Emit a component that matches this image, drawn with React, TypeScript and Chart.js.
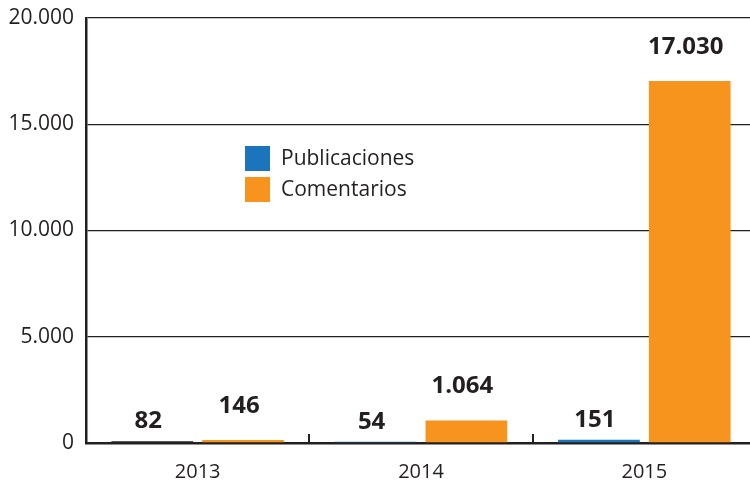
import React, { useEffect, useRef } from "react";
import { Chart, registerables } from "chart.js";

Chart.register(...registerables);

const categories = ["2013", "2014", "2015"];
const publicaciones = [82, 54, 151];
const comentarios = [146, 1064, 17030];
const yTicks = [0, 5000, 10000, 15000, 20000];
const seriesNames = ["Publicaciones", "Comentarios"];

const BLUE = "#1c75bc";
const ORANGE = "#f7941d";
const INK = "#231f20";
const FONT = "'Open Sans', sans-serif";

const fmt = (v: number) => v.toString().replace(/\B(?=(\d{3})+(?!\d))/g, ".");

const overlay = {
  id: "overlay",
  afterDatasetsDraw(chart: any) {
    const ctx = chart.ctx;
    const area = chart.chartArea;
    const x = chart.scales.x;
    ctx.save();
    ctx.strokeStyle = INK;
    ctx.lineWidth = 2;
    const n = categories.length;
    const step = (x.right - x.left) / n;
    for (let i = 1; i < n; i++) {
      const px = Math.round(x.left + step * i);
      ctx.beginPath();
      ctx.moveTo(px, area.bottom);
      ctx.lineTo(px, area.bottom - 9);
      ctx.stroke();
    }
    const offsets = [20, 34];
    ctx.fillStyle = INK;
    ctx.font = `bold 24px ${FONT}`;
    ctx.textAlign = "center";
    ctx.textBaseline = "middle";
    chart.data.datasets.forEach((ds: any, di: number) => {
      const meta = chart.getDatasetMeta(di);
      meta.data.forEach((bar: any, i: number) => {
        ctx.fillText(fmt(ds.data[i]), bar.x - 4, bar.y - offsets[di]);
      });
    });
    const lx = area.left + 159;
    const ly = area.top + 128;
    ctx.font = `21px ${FONT}`;
    ctx.textAlign = "left";
    chart.data.datasets.forEach((ds: any, di: number) => {
      const y = ly + di * 31;
      ctx.fillStyle = di === 0 ? BLUE : ORANGE;
      ctx.fillRect(lx, y, 25, 25);
      ctx.fillStyle = INK;
      ctx.fillText(ds.label, lx + 36, y + 13);
    });
    ctx.restore();
  },
};

export default function App() {
  const ref = useRef<HTMLCanvasElement>(null);
  useEffect(() => {
    document.body.style.margin = "0";
    const chart = new Chart(ref.current!, {
      type: "bar",
      data: {
        labels: categories,
        datasets: [
          {
            label: seriesNames[0],
            data: publicaciones,
            backgroundColor: [INK, BLUE, BLUE],
            categoryPercentage: 0.813,
            barPercentage: 0.9,
          },
          {
            label: seriesNames[1],
            data: comentarios,
            backgroundColor: ORANGE,
            categoryPercentage: 0.813,
            barPercentage: 0.9,
          },
        ],
      },
      options: {
        responsive: false,
        animation: false,
        layout: { padding: { top: 18, right: 0, left: 0, bottom: 0 } },
        plugins: { legend: { display: false }, tooltip: { enabled: false } },
        scales: {
          x: {
            grid: { display: false, drawTicks: false },
            border: { display: true, color: INK, width: 2.5 },
            ticks: { color: INK, font: { family: FONT, size: 20 }, padding: 17 },
            afterFit(s: any) {
              s.height = 44;
              s.paddingLeft = 0;
              s.paddingRight = 0;
            },
          },
          y: {
            min: 0,
            max: 20000,
            afterBuildTicks(s: any) {
              s.ticks = yTicks.map((v) => ({ value: v }));
            },
            grid: { color: INK, lineWidth: 1.3, drawTicks: false },
            border: { display: true, color: INK, width: 2.5 },
            ticks: {
              color: INK,
              font: { family: FONT, size: 21 },
              padding: 12,
              callback: (v: any) => fmt(Number(v)),
            },
            afterFit(s: any) {
              s.width = 86;
              s.paddingTop = 0;
              s.paddingBottom = 0;
            },
          },
        },
      },
      plugins: [overlay],
    });
    return () => chart.destroy();
  }, []);
  return (
    <div style={{ width: 750, height: 487, overflow: "hidden" }}>
      <canvas ref={ref} width={756} height={487} style={{ display: "block" }} />
    </div>
  );
}
